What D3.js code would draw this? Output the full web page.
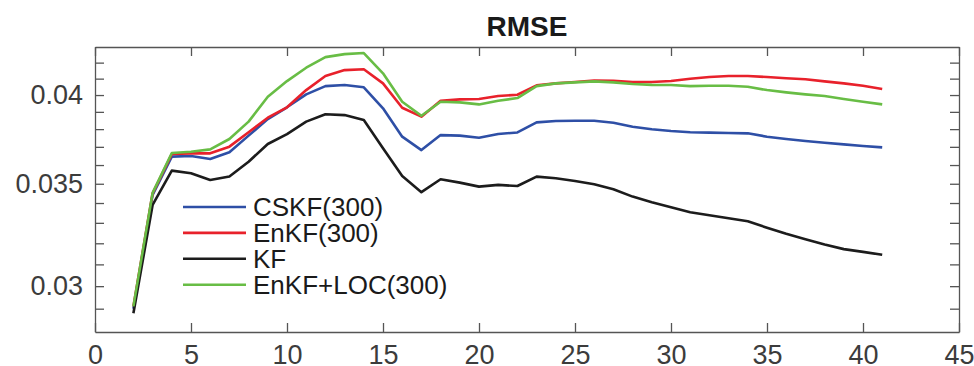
<!DOCTYPE html>
<html>
<head>
<meta charset="utf-8">
<script src="https://cdn.jsdelivr.net/npm/d3@7"></script>
<style>
  body { margin: 0; background: #fff; }
  svg { display: block; font-family: "Liberation Sans", Arial, Helvetica, sans-serif; }
  .axis path, .axis line { stroke: #555; stroke-width: 1.3px; }
  .axis text { fill: #3c3c3c; font-size: 27px; }
  .line { fill: none; stroke-width: 2.6px; stroke-linejoin: round; }
</style>
</head>
<body>
<svg width="974" height="366"></svg>
<script>
// data
var steps = [2, 3, 4, 5, 6, 7, 8, 9, 10, 11, 12, 13, 14, 15, 16, 17, 18, 19, 20, 21,
             22, 23, 24, 25, 26, 27, 28, 29, 30, 31, 32, 33, 34, 35, 36, 37, 38, 39, 40, 41];

var cskf = [0.0290, 0.03442, 0.03646, 0.03649, 0.03633, 0.03670, 0.03763, 0.03858, 0.03927, 0.04004,
            0.04054, 0.04061, 0.04047, 0.03921, 0.03757, 0.03682, 0.03766, 0.03763, 0.03751, 0.03772,
            0.03781, 0.03839, 0.03847, 0.03848, 0.03848, 0.03837, 0.03814, 0.03799, 0.03789, 0.03782,
            0.03780, 0.03778, 0.03776, 0.03757, 0.03744, 0.03733, 0.03723, 0.03714, 0.03705, 0.03697];

var enkf = [0.0291, 0.03450, 0.03660, 0.03664, 0.03664, 0.03701, 0.03782, 0.03866, 0.03927, 0.04030,
            0.04116, 0.04153, 0.04158, 0.04071, 0.03924, 0.03872, 0.03966, 0.03974, 0.03976, 0.03994,
            0.04002, 0.04059, 0.04071, 0.04079, 0.04089, 0.04086, 0.04079, 0.04079, 0.04085, 0.04099,
            0.04110, 0.04116, 0.04116, 0.04110, 0.04102, 0.04096, 0.04083, 0.04071, 0.04056, 0.04036];

var kf = [0.0288, 0.03390, 0.03570, 0.03556, 0.03520, 0.03538, 0.03618, 0.03716, 0.03772, 0.03843,
          0.03886, 0.03881, 0.03852, 0.03692, 0.03541, 0.03456, 0.03524, 0.03506, 0.03485, 0.03494,
          0.03488, 0.03538, 0.03529, 0.03515, 0.03497, 0.03471, 0.03433, 0.03404, 0.03378, 0.03353,
          0.03338, 0.03323, 0.03308, 0.03276, 0.03246, 0.03220, 0.03194, 0.03172, 0.03159, 0.03145];

var enkfLoc = [0.0291, 0.03452, 0.03666, 0.03673, 0.03686, 0.03744, 0.03843, 0.03990, 0.04085, 0.04168,
               0.04235, 0.04254, 0.04261, 0.04133, 0.03960, 0.03877, 0.03960, 0.03956, 0.03944, 0.03966,
               0.03982, 0.04054, 0.04071, 0.04077, 0.04083, 0.04077, 0.04067, 0.04062, 0.04061, 0.04054,
               0.04056, 0.04056, 0.04050, 0.04030, 0.04016, 0.04004, 0.03994, 0.03976, 0.03960, 0.03944];

var seriesNames = ["CSKF(300)", "EnKF(300)", "KF", "EnKF+LOC(300)"];
var seriesColors = ["#2e4fa6", "#e8212b", "#1c1c1c", "#68bd45"];

var xTicks = [0, 5, 10, 15, 20, 25, 30, 35, 40, 45];
var yTicks = [0.029, 0.030, 0.031, 0.032, 0.033, 0.034, 0.035, 0.036, 0.037, 0.038, 0.039, 0.040, 0.041, 0.042];
var yTickLabels = [0.03, 0.035, 0.04];

var svg = d3.select("svg"),
    margin = {top: 47, right: 15, bottom: 34, left: 95},
    width = svg.attr("width") - margin.left - margin.right,
    height = svg.attr("height") - margin.top - margin.bottom,
    g = svg.append("g").attr("transform", "translate(" + margin.left + "," + margin.top + ")");

var x = d3.scaleLinear().domain([0, 45]).range([0, width]),
    y = d3.scaleLog().domain([0.028, 0.043]).range([height, 0]);

var series = [cskf, enkf, kf, enkfLoc].map(function (vals, i) {
    return {
        id: seriesNames[i],
        color: seriesColors[i],
        values: steps.map(function (n, j) { return {n: n, v: vals[j]}; })
    };
});

var line = d3.line()
    .x(function (d) { return x(d.n); })
    .y(function (d) { return y(d.v); });

function isLabel(d) { // only 0.03, 0.035, 0.04 get text
    return yTickLabels.some(function (t) { return Math.abs(t - d) < 1e-9; });
}

// box: bottom and left carry labels, top and right only ticks (all pointing in)
g.append("g").attr("class", "axis").attr("transform", "translate(0," + height + ")")
    .call(d3.axisBottom(x).tickValues(xTicks).tickSizeInner(-9).tickSizeOuter(0).tickPadding(13));
g.append("g").attr("class", "axis")
    .call(d3.axisTop(x).tickValues(xTicks).tickSizeInner(-9).tickSizeOuter(0).tickFormat(""));
g.append("g").attr("class", "axis")
    .call(d3.axisLeft(y).tickValues(yTicks).tickSizeInner(-9).tickSizeOuter(0).tickPadding(12)
        .tickFormat(function (d) { return isLabel(d) ? String(+d.toFixed(3)) : ""; }));
g.append("g").attr("class", "axis").attr("transform", "translate(" + width + ",0)")
    .call(d3.axisRight(y).tickValues(yTicks).tickSizeInner(-9).tickSizeOuter(0).tickFormat(""));

g.selectAll(".series")
    .data(series)
    .enter().append("path")
    .attr("class", "line")
    .attr("d", function (d) { return line(d.values); })
    .style("stroke", function (d) { return d.color; });

svg.append("text") // title
    .attr("x", margin.left + width / 2)
    .attr("y", 36)
    .attr("text-anchor", "middle")
    .style("font-size", "28px")
    .style("font-weight", "bold")
    .style("fill", "#1a1a1a")
    .text("RMSE");

var legend = svg.append("g").attr("transform", "translate(183,207)");
var item = legend.selectAll("g")
    .data(series)
    .enter().append("g")
    .attr("transform", function (d, i) { return "translate(0," + (i * 25.9) + ")"; });
item.append("line")
    .attr("x1", 0).attr("x2", 63)
    .attr("stroke", function (d) { return d.color; })
    .attr("stroke-width", 2.6);
item.append("text")
    .attr("x", 70)
    .attr("dy", "0.36em")
    .style("font-size", "26px")
    .style("fill", "#1a1a1a")
    .text(function (d) { return d.id; });
</script>
</body>
</html>
